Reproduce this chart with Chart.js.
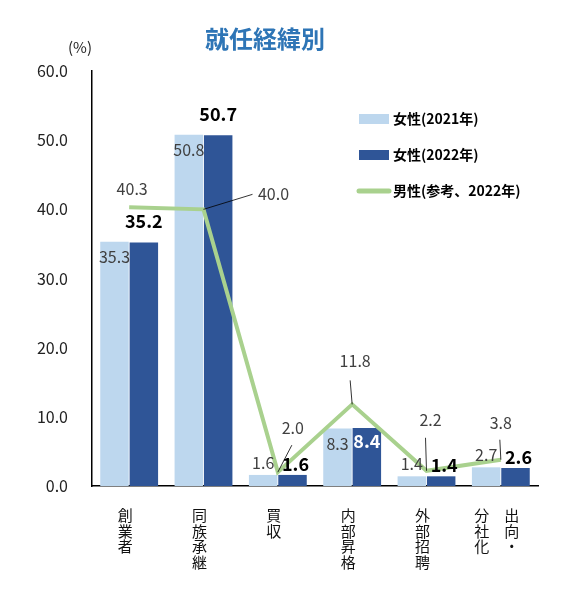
<!DOCTYPE html>
<html>
<head>
<meta charset="utf-8">
<script src="https://cdn.jsdelivr.net/npm/chart.js@4"></script>
<style>
  html, body { margin: 0; padding: 0; background: #fff; }
  #wrap { position: relative; width: 582px; height: 592px; }
</style>
</head>
<body>
<div id="wrap"><canvas id="chart"></canvas></div>
<script>
// data
const categories = [
  ['創', '業', '者'],
  ['同', '族', '承', '継'],
  ['買', '収'],
  ['内', '部', '昇', '格'],
  ['外', '部', '招', '聘'],
  ['分　出', '社　向', '化　・']
];
const female2021 = [35.3, 50.8, 1.6, 8.3, 1.4, 2.7];
const female2022 = [35.2, 50.7, 1.6, 8.4, 1.4, 2.6];
const male2022 = [40.3, 40.0, 2.0, 11.8, 2.2, 3.8];
const yTicks = [0, 10, 20, 30, 40, 50, 60];

const FONT = "'Noto Sans CJK JP', 'Noto Sans', sans-serif";
const LIGHT = '#bdd7ee';
const DARK = '#2f5597';
const GREEN = '#a9d18e';

// where the male labels sit relative to their point (dx, dy) and leader end
const maleLabelPos = [
  { dx: 3, dy: -18 },
  { dx: 70, dy: -15, lead: [49, -15] },
  { dx: 15, dy: -44, lead: [14, -27] },
  { dx: 3, dy: -43, lead: [-2, -24] },
  { dx: 4, dy: -51, lead: [-1, -33] },
  { dx: 0, dy: -37, lead: [-1, -20] }
];

const labelPlugin = {
  id: 'labels',
  afterDatasetsDraw(chart) {
    const ctx = chart.ctx;
    const bars21 = chart.getDatasetMeta(0).data;
    const bars22 = chart.getDatasetMeta(1).data;
    const pts = chart.getDatasetMeta(2).data;
    ctx.save();
    ctx.textAlign = 'center';
    ctx.textBaseline = 'middle';

    // 2021 values
    ctx.font = '16px ' + FONT;
    ctx.fillStyle = '#404040';
    bars21.forEach((b, i) => {
      const v = female2021[i];
      const y = v > 5 ? b.y + 15 : b.y - 12;
      ctx.fillText(v.toFixed(1), b.x, y);
    });

    // 2022 values
    ctx.font = 'bold 18px ' + FONT;
    bars22.forEach((b, i) => {
      const v = female2022[i];
      let y, col = '#000';
      if (v > 20) { y = b.y - 21; }
      else if (v > 5) { y = b.y + 13; col = '#fff'; }
      else { y = b.y - 11; }
      ctx.fillStyle = col;
      ctx.fillText(v.toFixed(1), b.x + (v < 5 ? 3 : 0), y);
    });

    // male values with leader lines
    ctx.font = '16px ' + FONT;
    ctx.fillStyle = '#404040';
    ctx.strokeStyle = '#000';
    ctx.lineWidth = 0.8;
    pts.forEach((p, i) => {
      const o = maleLabelPos[i];
      if (o.lead) {
        ctx.beginPath();
        ctx.moveTo(p.x, p.y);
        ctx.lineTo(p.x + o.lead[0], p.y + o.lead[1]);
        ctx.stroke();
      }
      ctx.fillText(male2022[i].toFixed(1), p.x + o.dx, p.y + o.dy);
    });

    ctx.restore();
  },
  afterDraw(chart) {
    const ctx = chart.ctx;
    ctx.save();
    // title
    ctx.textAlign = 'center';
    ctx.textBaseline = 'middle';
    ctx.font = 'bold 24px ' + FONT;
    ctx.fillStyle = '#2e75b6';
    ctx.fillText('就任経緯別', 265, 39);
    // unit
    ctx.font = '15px ' + FONT;
    ctx.fillStyle = '#222';
    ctx.fillText('(%)', 80, 47);

    // legend
    const lx = 359, items = [
      { text: '女性(2021年)', type: 'box', color: LIGHT, y: 119 },
      { text: '女性(2022年)', type: 'box', color: DARK, y: 155 },
      { text: '男性(参考、2022年)', type: 'line', color: GREEN, y: 191 }
    ];
    ctx.textAlign = 'left';
    ctx.font = 'bold 14px ' + FONT;
    items.forEach(it => {
      if (it.type === 'box') {
        ctx.fillStyle = it.color;
        ctx.fillRect(lx, it.y - 5, 30, 10);
      } else {
        ctx.strokeStyle = it.color;
        ctx.lineWidth = 5;
        ctx.lineCap = 'round';
        ctx.beginPath();
        ctx.moveTo(lx, it.y);
        ctx.lineTo(lx + 30, it.y);
        ctx.stroke();
      }
      ctx.fillStyle = '#000';
      ctx.fillText(it.text, lx + 34, it.y);
    });
    ctx.restore();
  }
};

new Chart(document.getElementById('chart'), {
  type: 'bar',
  data: {
    labels: categories,
    datasets: [
      {
        label: '女性(2021年)',
        data: female2021,
        backgroundColor: LIGHT,
        categoryPercentage: 0.79,
        barPercentage: 0.97,
        order: 1
      },
      {
        label: '女性(2022年)',
        data: female2022,
        backgroundColor: DARK,
        categoryPercentage: 0.79,
        barPercentage: 0.97,
        order: 1
      },
      {
        type: 'line',
        label: '男性(参考、2022年)',
        data: male2022,
        borderColor: GREEN,
        borderWidth: 4,
        pointRadius: 0,
        tension: 0,
        order: 0
      }
    ]
  },
  options: {
    responsive: true,
    maintainAspectRatio: false,
    animation: false,
    layout: { padding: { top: 71, right: 44, left: 0, bottom: 0 } },
    plugins: {
      legend: { display: false },
      title: { display: false },
      tooltip: { enabled: false }
    },
    scales: {
      x: {
        grid: { display: false },
        border: { display: true, color: '#000', width: 1.5 },
        ticks: {
          font: { family: FONT, size: 15, lineHeight: 1.03 },
          color: '#111',
          padding: 14,
          labelOffset: -4,
          maxRotation: 0,
          autoSkip: false
        },
        afterFit(scale) { scale.height = 106; }
      },
      y: {
        min: 0,
        max: 60,
        afterBuildTicks(scale) { scale.ticks = yTicks.map(v => ({ value: v })); },
        grid: { display: false, drawTicks: false },
        border: { display: true, color: '#000', width: 1.5 },
        ticks: {
          font: { family: FONT, size: 16 },
          color: '#222',
          padding: 24,
          callback: v => v.toFixed(1)
        },
        afterFit(scale) { scale.width = 92; }
      }
    }
  },
  plugins: [labelPlugin]
});
</script>
</body>
</html>
